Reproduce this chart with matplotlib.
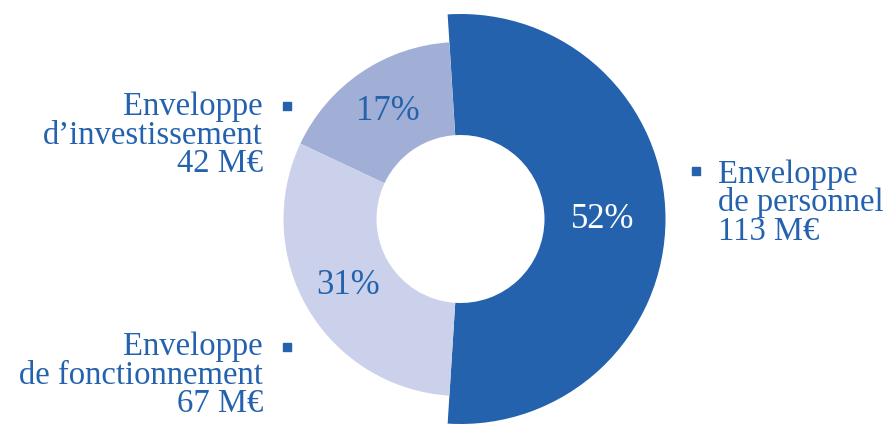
import matplotlib.pyplot as plt
from matplotlib.patches import Wedge
import numpy as np

plt.rcParams['font.family'] = ['Liberation Serif', 'DejaVu Serif']

# budget split (percent) and amounts in M€
shares = [52, 17, 31]
amounts = [113, 42, 67]
names = [["Enveloppe", "de personnel"],
         ["Enveloppe", "d\u2019investissement"],
         ["Enveloppe", "de fonctionnement"]]
colors = ["#2462AE", "#A1AFD7", "#CBD1EA"]
pct_colors = ["white", "#2462AE", "#2462AE"]

W, H = 892, 424
fig = plt.figure(figsize=(W / 100, H / 100), dpi=100)
ax = fig.add_axes([0, 0, 1, 1])
ax.set_xlim(0, W)
ax.set_ylim(0, H)
ax.set_aspect('equal')
ax.axis('off')

# ring geometry in pixel units
cx, cy = 460.5, H - 219
r_in = 84
outer = [205, 177, 177]
label_r = [142, 130, 130]

start = -shares[0] / 100 * 360 / 2
edges = np.cumsum([0] + shares) / 100 * 360 + start

for i, s in enumerate(shares):
    ax.add_patch(Wedge((cx, cy), outer[i], edges[i], edges[i + 1],
                       width=outer[i] - r_in, facecolor=colors[i],
                       linewidth=0))
    mid = np.deg2rad((edges[i] + edges[i + 1]) / 2)
    ax.text(cx + label_r[i] * np.cos(mid), cy + label_r[i] * np.sin(mid),
            f"{s}%", color=pct_colors[i], fontsize=25,
            ha='center', va='center')

# side captions: anchor x, first baseline (px from top), alignment, marker
captions = [
    (718, 183, 'left', (696, 171)),
    (263, 115, 'right', (287, 106)),
    (263, 355, 'right', (287, 347)),
]
line_gap = 28.5
for i, (x, y0, ha, mk) in enumerate(captions):
    lines = names[i] + [f"{amounts[i]} M€"]
    for j, line in enumerate(lines):
        ax.text(x, H - (y0 + j * line_gap), line, color="#2462AE",
                fontsize=23.5, ha=ha, va='baseline')
    ax.plot(mk[0], H - mk[1], marker='s', markersize=5.2,
            color="#2462AE", linestyle='none')

fig.savefig("out.png", dpi=100)
